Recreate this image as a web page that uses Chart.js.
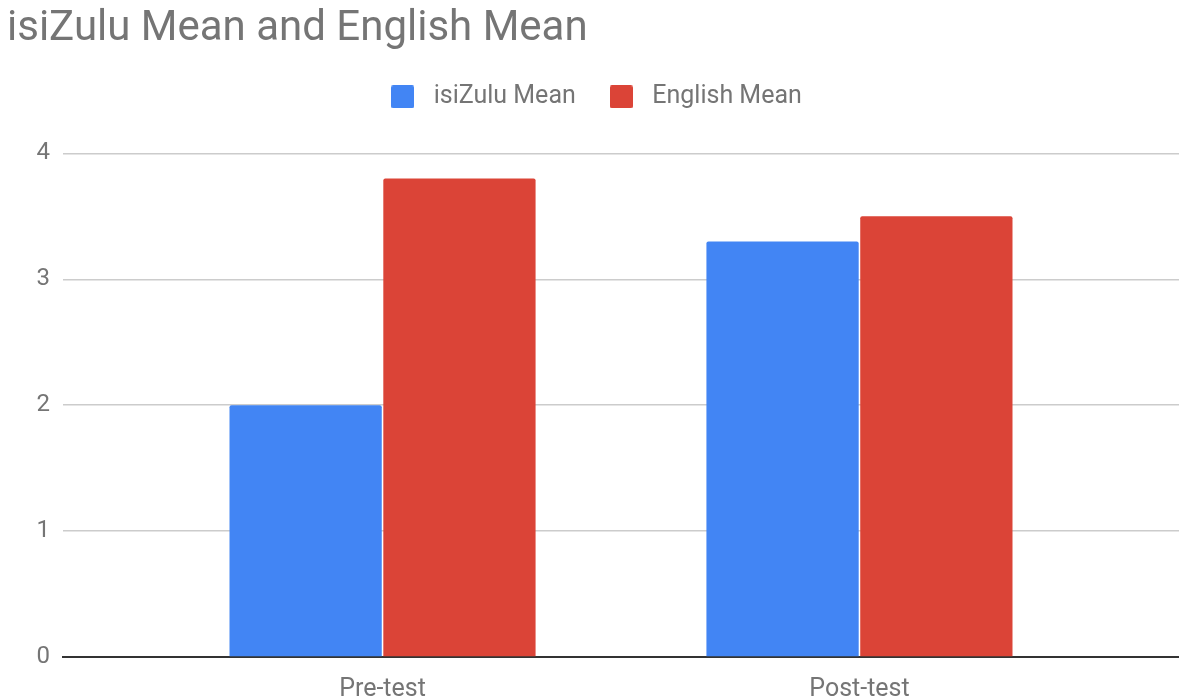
<!DOCTYPE html>
<html>
<head>
<meta charset="utf-8">
<script src="https://cdn.jsdelivr.net/npm/chart.js@4.4.0/dist/chart.umd.min.js"></script>
<style>
  html, body { margin: 0; padding: 0; background: #fff; }
  #wrap { width: 1179px; height: 697px; }
</style>
</head>
<body>
<div id="wrap"><canvas id="mycanvas"></canvas></div>
<script>
var categories = ['Pre-test', 'Post-test'];
var seriesNames = ['isiZulu Mean', 'English Mean'];
var zuluMean = [2, 3.3];
var englishMean = [3.8, 3.5];
var yTicks = [0, 1, 2, 3, 4];

var blue = '#4285f4';
var red = '#db4437';
var grey = '#757575';

// small rounded squares used as legend markers
function swatch(color) {
    var c = document.createElement('canvas');
    c.width = 23;
    c.height = 23;
    var g = c.getContext('2d');
    g.fillStyle = color;
    g.beginPath();
    g.roundRect(0, 0, 23, 23, 2);
    g.fill();
    return c;
}
var swatches = [swatch(blue), swatch(red)];

// x is the category index on a linear scale
function points(values) {
    return values.map(function (v, i) { return { x: i, y: v }; });
}

// extra space under the legend
var legendGap = {
    id: 'legendGap',
    beforeInit: function (chart) {
        var fit = chart.legend.fit;
        chart.legend.fit = function () {
            fit.call(this);
            this.height += 34;
        };
    }
};

Chart.defaults.font.family = 'Roboto';
Chart.defaults.color = grey;

var barGraph = new Chart(document.getElementById('mycanvas'), {
    type: 'bar',
    data: {
        datasets: [
            { label: seriesNames[0], data: points(zuluMean), backgroundColor: blue, borderRadius: 2 },
            { label: seriesNames[1], data: points(englishMean), backgroundColor: red, borderRadius: 2 }
        ]
    },
    plugins: [legendGap],
    options: {
        responsive: true,
        maintainAspectRatio: false,
        animation: false,
        categoryPercentage: 0.645,
        barPercentage: 0.99,
        layout: { padding: { left: 7, right: 0, top: 0, bottom: 0 } },
        plugins: {
            tooltip: { enabled: false },
            title: {
                display: true,
                text: 'isiZulu Mean and English Mean',
                align: 'start',
                color: grey,
                font: { size: 42, weight: 'normal' },
                padding: { top: 4, bottom: 3 }
            },
            legend: {
                labels: {
                    font: { size: 25 },
                    color: grey,
                    usePointStyle: true,
                    pointStyleWidth: 37,
                    boxHeight: 25,
                    padding: 27,
                    generateLabels: function (chart) {
                        var items = Chart.defaults.plugins.legend.labels.generateLabels(chart);
                        items.forEach(function (it, i) { it.pointStyle = swatches[i]; });
                        return items;
                    }
                }
            }
        },
        scales: {
            x: {
                type: 'linear',
                min: -0.67,
                max: 1.67,
                offset: false,
                z: 1,
                grid: { display: false, drawTicks: false },
                border: { display: true, color: '#333333', width: 2 },
                afterBuildTicks: function (scale) {
                    scale.ticks = categories.map(function (c, i) { return { value: i }; });
                },
                afterFit: function (scale) { scale.height = 40; },
                ticks: {
                    autoSkip: false,
                    maxRotation: 0,
                    padding: 18,
                    color: grey,
                    font: { size: 25 },
                    callback: function (v) { return categories[v]; }
                }
            },
            y: {
                min: yTicks[0],
                max: yTicks[yTicks.length - 1],
                border: { display: false },
                grid: {
                    drawTicks: false,
                    lineWidth: 1.5,
                    color: function (c) { return c.tick && c.tick.value === 0 ? 'rgba(0,0,0,0)' : '#cccccc'; }
                },
                afterFit: function (scale) { scale.width = 56; },
                ticks: {
                    stepSize: 1,
                    padding: 13,
                    color: grey,
                    font: { size: 24 }
                }
            }
        }
    }
});
</script>
</body>
</html>
